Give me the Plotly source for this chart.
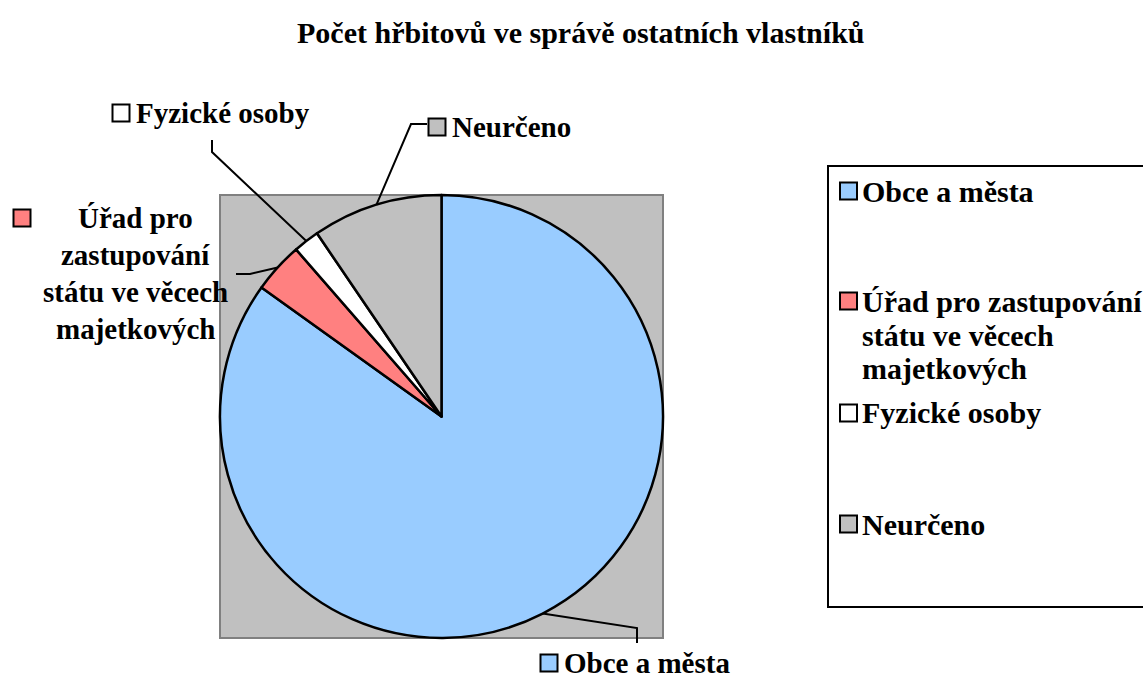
import math
import plotly.graph_objects as go

# ---- data ----
categories = ["Obce a města",
              "Úřad pro zastupování státu ve věcech majetkových",
              "Fyzické osoby",
              "Neurčeno"]
values = [84.9, 3.7, 1.9, 9.5]
colors = ["#99CCFF", "#FF8080", "#FFFFFF", "#C0C0C0"]
title_text = "Počet hřbitovů ve správě ostatních vlastníků"

# label text lines (outside labels) and legend text lines
label_lines = [["Obce a města"],
               ["Úřad pro", "zastupování", "státu ve věcech", "majetkových"],
               ["Fyzické osoby"],
               ["Neurčeno"]]
legend_lines = [["Obce a města"],
                ["Úřad pro zastupování", "státu ve věcech", "majetkových"],
                ["Fyzické osoby"],
                ["Neurčeno"]]

# ---- layout constants (pixels) ----
W, H = 1143, 679
FONT = "Liberation Serif"
FS_LABEL = 29
FS_LEG = 30
FS_TITLE = 30
PLOT_L, PLOT_R, PLOT_T, PLOT_B = 220, 663, 195, 638
CX, CY = (PLOT_L + PLOT_R) / 2, (PLOT_T + PLOT_B) / 2
R = (PLOT_B - PLOT_T) / 2


def px(x):
    return x / W


def py(y):
    return 1 - y / H


fig = go.Figure()
fig.add_trace(go.Pie(
    labels=categories, values=values, sort=False, direction="clockwise",
    rotation=0, marker=dict(colors=colors, line=dict(color="black", width=2.5)),
    textinfo="none", hoverinfo="label+value", showlegend=False,
    domain=dict(x=[px(PLOT_L), px(PLOT_R)], y=[py(PLOT_B), py(PLOT_T)]),
))

shapes = []
annotations = []

# plot area background
shapes.append(dict(type="rect", xref="paper", yref="paper", layer="below",
                   x0=px(PLOT_L), x1=px(PLOT_R), y0=py(PLOT_B), y1=py(PLOT_T),
                   fillcolor="#C0C0C0", line=dict(color="#808080", width=2)))

# title
annotations.append(dict(text=title_text, x=px(581), y=py(32), xref="paper", yref="paper",
                        xanchor="center", yanchor="middle", showarrow=False,
                        font=dict(family=FONT, size=FS_TITLE, color="black", weight="bold")))

# mid-angle anchor points on the pie edge, computed from the values
total = sum(values)
anchors = []
cum = 0
for v in values:
    mid = (cum + v / 2) / total * 2 * math.pi
    anchors.append((CX + R * math.sin(mid), CY - R * math.cos(mid)))
    cum += v

SW = 17
label_cfg = [
    dict(sw=(549, 663), tx=562, anchor="left", lh=37, elbow=[(637, 643), (637, 628)]),
    dict(sw=(22, 218), tx=135, anchor="center", lh=37, elbow=[(236, 274), (250, 274)]),
    dict(sw=(121, 113), tx=134, anchor="left", lh=37, elbow=[(212, 140), (212, 152)]),
    dict(sw=(437, 127), tx=450, anchor="left", lh=37, elbow=[(427, 124), (411, 124)]),
]

for i, cfg in enumerate(label_cfg):
    sx, sy = cfg["sw"]
    shapes.append(dict(type="rect", xref="paper", yref="paper",
                       x0=px(sx - SW / 2), x1=px(sx + SW / 2),
                       y0=py(sy + SW / 2), y1=py(sy - SW / 2),
                       fillcolor=colors[i], line=dict(color="black", width=2)))
    for j, line in enumerate(label_lines[i]):
        annotations.append(dict(text=line, x=px(cfg["tx"]), y=py(sy + j * cfg["lh"]),
                                xref="paper", yref="paper", xanchor=cfg["anchor"],
                                yanchor="middle", showarrow=False,
                                font=dict(family=FONT, size=FS_LABEL, color="black", weight="bold")))
    pts = cfg["elbow"] + [anchors[i]]
    path = "M " + " L ".join(f"{px(x)},{py(y)}" for x, y in pts)
    shapes.append(dict(type="path", xref="paper", yref="paper", path=path,
                       line=dict(color="black", width=2)))

# legend box
LEG_L, LEG_T, LEG_B = 828, 166, 607
shapes.append(dict(type="rect", xref="paper", yref="paper",
                   x0=px(LEG_L), x1=px(W + 10), y0=py(LEG_B), y1=py(LEG_T),
                   fillcolor="white", line=dict(color="black", width=2)))
legend_y = [191, 301, 413, 524]
LEG_LH = 34
for i, lines in enumerate(legend_lines):
    y0 = legend_y[i]
    shapes.append(dict(type="rect", xref="paper", yref="paper",
                       x0=px(840), x1=px(840 + SW),
                       y0=py(y0 + SW / 2), y1=py(y0 - SW / 2),
                       fillcolor=colors[i], line=dict(color="black", width=2)))
    for j, line in enumerate(lines):
        annotations.append(dict(text=line, x=px(860), y=py(y0 + j * LEG_LH),
                                xref="paper", yref="paper", xanchor="left",
                                yanchor="middle", showarrow=False,
                                font=dict(family=FONT, size=FS_LEG, color="black", weight="bold")))

fig.update_layout(width=W, height=H, autosize=False,
                  margin=dict(l=0, r=0, t=0, b=0),
                  paper_bgcolor="white", plot_bgcolor="white",
                  shapes=shapes, annotations=annotations)

fig.write_html("out.html", config={"displayModeBar": False},
               post_script="document.body.style.margin='0';document.body.style.overflow='hidden';")
